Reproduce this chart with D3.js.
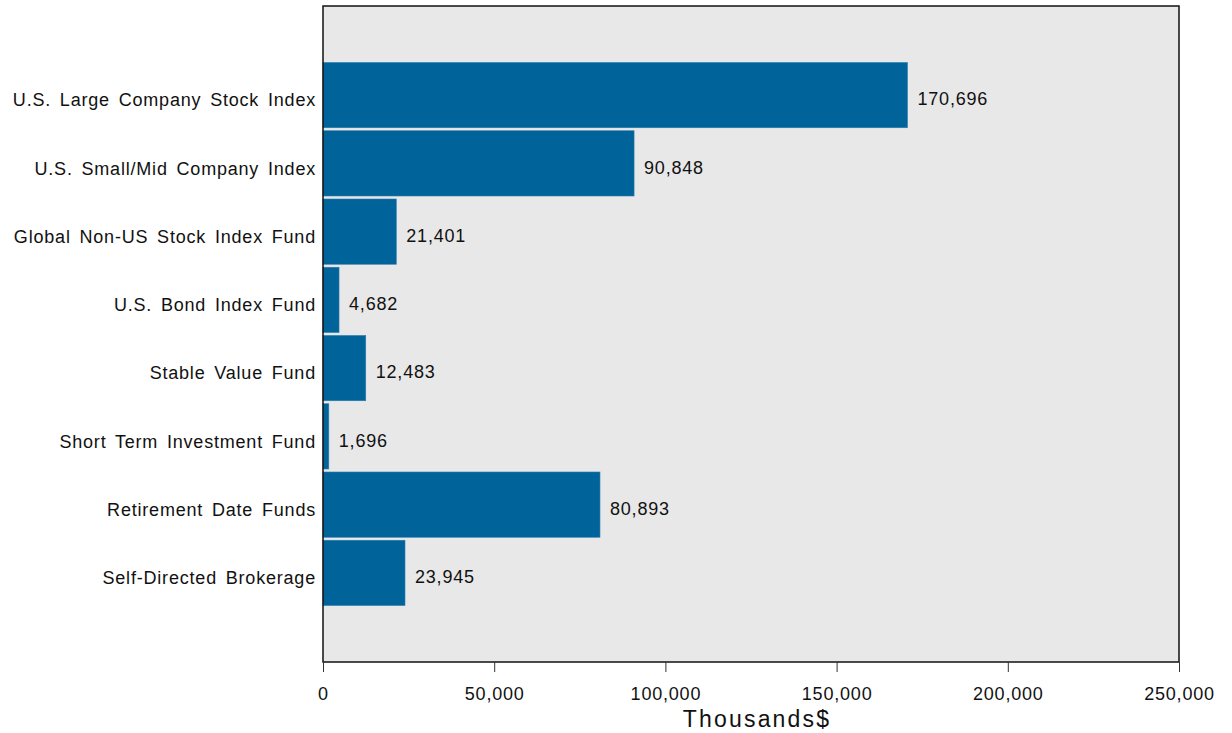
<!DOCTYPE html>
<html>
<head>
<meta charset="utf-8">
<script src="https://cdn.jsdelivr.net/npm/d3@7"></script>
<style>
  body { margin: 0; background: #fff; }
  svg text { font-family: "Liberation Sans", Arial, sans-serif; fill: #111; }
</style>
</head>
<body>
<svg id="chart" width="1232" height="733"></svg>
<script>
var categories = [
  "U.S. Large Company Stock Index",
  "U.S. Small/Mid Company Index",
  "Global Non-US Stock Index Fund",
  "U.S. Bond Index Fund",
  "Stable Value Fund",
  "Short Term Investment Fund",
  "Retirement Date Funds",
  "Self-Directed Brokerage"
];
var values = [170696, 90848, 21401, 4682, 12483, 1696, 80893, 23945];
var xTicks = [0, 50000, 100000, 150000, 200000, 250000];

var plotLeft = 323, plotRight = 1179, plotTop = 6, plotBottom = 662;

var svg = d3.select("#chart");

var x = d3.scaleLinear()
    .domain([0, 250000])
    .range([plotLeft, plotRight]);

var y = d3.scaleBand()
    .domain(categories)
    .range([59.5, 608.5])
    .padding(0.044);

var fmt = d3.format(",");

// plot background
svg.append("rect")
    .attr("x", plotLeft)
    .attr("y", plotTop)
    .attr("width", plotRight - plotLeft)
    .attr("height", plotBottom - plotTop)
    .attr("fill", "#e8e8e8");

// bars
svg.selectAll(".bar")
    .data(values)
  .enter().append("rect")
    .attr("class", "bar")
    .attr("x", x(0))
    .attr("y", function(d, i) { return y(categories[i]); })
    .attr("width", function(d) { return x(d) - x(0); })
    .attr("height", y.bandwidth())
    .attr("fill", "#006399")
    .attr("stroke", "#2a7cad")
    .attr("stroke-width", 0.6);

// value labels
svg.selectAll(".val")
    .data(values)
  .enter().append("text")
    .attr("class", "val")
    .attr("x", function(d) { return x(d) + 10; })
    .attr("y", function(d, i) { return y(categories[i]) + y.bandwidth() / 2 + 4; })
    .attr("dy", "0.35em")
    .attr("font-size", 18)
    .attr("letter-spacing", 0.8)
    .text(function(d) { return fmt(d); });

// category labels
svg.selectAll(".cat")
    .data(categories)
  .enter().append("text")
    .attr("class", "cat")
    .attr("x", plotLeft - 7)
    .attr("y", function(d) { return y(d) + y.bandwidth() / 2 + 5; })
    .attr("dy", "0.35em")
    .attr("text-anchor", "end")
    .attr("font-size", 18)
    .attr("letter-spacing", 0.8)
    .attr("word-spacing", 3)
    .text(function(d) { return d; });

// frame
svg.append("rect")
    .attr("x", plotLeft)
    .attr("y", plotTop)
    .attr("width", plotRight - plotLeft)
    .attr("height", plotBottom - plotTop)
    .attr("fill", "none")
    .attr("stroke", "#111")
    .attr("stroke-width", 1.5);

// x axis
var xAxis = d3.axisBottom(x)
    .tickValues(xTicks)
    .tickFormat(fmt)
    .tickSize(10)
    .tickPadding(15);

var xAxisG = svg.append("g")
    .attr("transform", "translate(0," + plotBottom + ")")
    .call(xAxis);
xAxisG.select(".domain").remove();
xAxisG.selectAll("line").attr("stroke", "#333");
xAxisG.selectAll("text")
    .attr("font-size", 18)
    .attr("letter-spacing", 0.8)
    .attr("font-family", "Liberation Sans, Arial, sans-serif")
    .attr("fill", "#111");

// axis title
svg.append("text")
    .attr("x", (plotLeft + plotRight) / 2 + 6)
    .attr("y", 727)
    .attr("text-anchor", "middle")
    .attr("font-size", 23)
    .attr("letter-spacing", 2.2)
    .text("Thousands$");
</script>
</body>
</html>
